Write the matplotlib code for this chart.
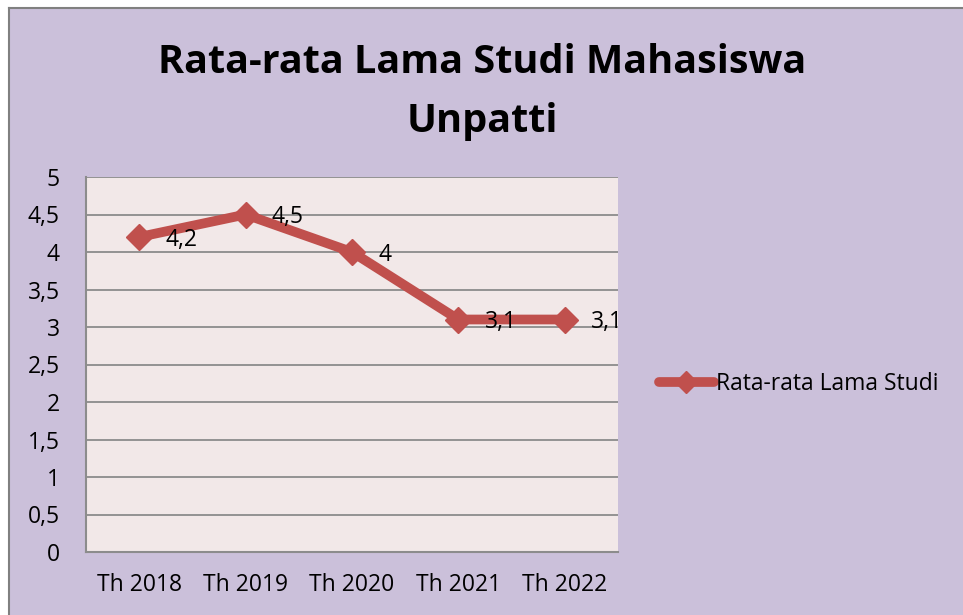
import matplotlib
matplotlib.use("Agg")
import matplotlib.pyplot as plt
from matplotlib.patches import Rectangle
from matplotlib.lines import Line2D

categories = ["Th 2018", "Th 2019", "Th 2020", "Th 2021", "Th 2022"]
values = [4.2, 4.5, 4.0, 3.1, 3.1]
value_labels = ["4,2", "4,5", "4", "3,1", "3,1"]
yticks = [0, 0.5, 1, 1.5, 2, 2.5, 3, 3.5, 4, 4.5, 5]
ytick_labels = ["0", "0,5", "1", "1,5", "2", "2,5", "3", "3,5", "4", "4,5", "5"]
series_name = "Rata-rata Lama Studi"
title = "Rata-rata Lama Studi Mahasiswa\nUnpatti"

plt.rcParams['font.family'] = ['Open Sans', 'DejaVu Sans']

W, H = 963, 615
fig = plt.figure(figsize=(W / 100, H / 100), dpi=100)
fig.patch.set_facecolor("white")

bg = "#CBC0DA"
fig.patches.append(Rectangle((9 / W, 0), 1 - 9 / W, 1 - 8 / H, transform=fig.transFigure,
                             facecolor=bg, edgecolor="none", zorder=-10))
fig.lines.append(Line2D([8.5 / W, 8.5 / W], [0, 1 - 7.5 / H], transform=fig.transFigure,
                        color="#808080", lw=1.5, zorder=-5))
fig.lines.append(Line2D([8.5 / W, 1], [1 - 7.5 / H, 1 - 7.5 / H], transform=fig.transFigure,
                        color="#808080", lw=1.5, zorder=-5))

left, right, top, bottom = 86, 618, 177, 552
ax = fig.add_axes([left / W, 1 - bottom / H, (right - left) / W, (bottom - top) / H])
ax.set_facecolor("#F2E8E8")

x = list(range(len(categories)))
ax.plot(x, values, color="#C0504D", lw=7, marker="D", markersize=13,
        solid_joinstyle="round", solid_capstyle="round", zorder=3, clip_on=False)
for xi, v, lab in zip(x, values, value_labels):
    ax.annotate(lab, (xi, v), xytext=(19, -2), textcoords="offset points",
                fontsize=16.5, color="black", va="center", ha="left", zorder=4,
                annotation_clip=False)

ax.set_xlim(-0.5, len(categories) - 0.5)
ax.set_ylim(0, 5)
ax.set_yticks(yticks)
ax.set_yticklabels(ytick_labels)
ax.set_xticks(x)
ax.set_xticklabels(categories)
ax.tick_params(axis="both", length=0, labelsize=16.5, colors="black")
ax.tick_params(axis="y", pad=19)
ax.tick_params(axis="x", pad=15)
ax.grid(axis="y", color="#8C8C8C", lw=1.3)
ax.set_axisbelow(True)
for s in ["top", "right"]:
    ax.spines[s].set_visible(False)
for s in ["left", "bottom"]:
    ax.spines[s].set_color("#8C8C8C")
    ax.spines[s].set_linewidth(1.5)

fig.text(482 / W, 1 - 92 / H, title, ha="center", va="center", fontsize=28.5,
         fontweight="bold", linespacing=1.65)

handle = Line2D([], [], color="#C0504D", lw=7, marker="D", markersize=11,
                solid_capstyle="round")
fig.legend([handle], [series_name], loc="center left",
           bbox_to_anchor=(638 / W, 1 - 384 / H), frameon=False, fontsize=16.5,
           handlelength=2.4, handletextpad=0.1)

fig.savefig("out.png", dpi=100, facecolor=fig.get_facecolor())
